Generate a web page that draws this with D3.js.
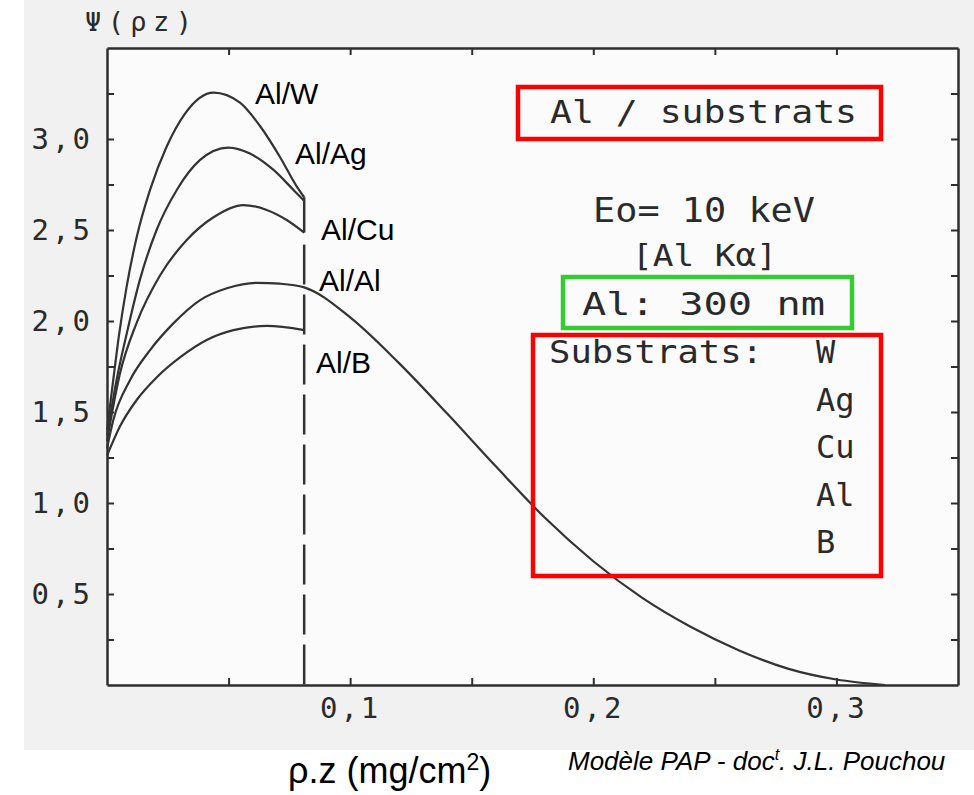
<!DOCTYPE html>
<html>
<head>
<meta charset="utf-8">
<script src="https://cdn.jsdelivr.net/npm/d3@7"></script>
<style>
  body { margin: 0; background: #fff; }
  .scan { font-family: "DejaVu Sans Mono", "Liberation Mono", monospace; fill: #2a2a2a; }
</style>
</head>
<body>
<svg id="chart" width="974" height="795"></svg>
<script>
// phi(rho.z) curves, Al film 300 nm on different substrates
const substrates = ["W", "Ag", "Cu", "Al", "B"];

const rzW  = [0, 0.0026, 0.0047, 0.0081, 0.0122, 0.0177, 0.0246, 0.0321, 0.0438, 0.0547, 0.063, 0.0712, 0.078, 0.0811];
const phiW = [1.40, 1.68, 1.90, 2.19, 2.46, 2.72, 2.96, 3.14, 3.255, 3.20, 3.07, 2.90, 2.74, 2.68];

const rzAg  = [0, 0.004, 0.0081, 0.0136, 0.0204, 0.0287, 0.0383, 0.0499, 0.0588, 0.0685, 0.0767, 0.0811];
const phiAg = [1.37, 1.68, 1.93, 2.23, 2.50, 2.72, 2.885, 2.953, 2.92, 2.83, 2.72, 2.66];

const rzCu  = [0, 0.0053, 0.0122, 0.0218, 0.0328, 0.0438, 0.0561, 0.0657, 0.0739, 0.0811];
const phiCu = [1.34, 1.71, 1.99, 2.25, 2.445, 2.57, 2.637, 2.61, 2.555, 2.486];

const rzAl  = [0, 0.0026, 0.0095, 0.0177, 0.0273, 0.0383, 0.0493, 0.0616, 0.0712, 0.0811, 0.10, 0.12, 0.14, 0.16, 0.18, 0.20, 0.22, 0.24, 0.26, 0.28, 0.30, 0.32];
const phiAl = [1.30, 1.456, 1.676, 1.84, 1.987, 2.115, 2.18, 2.21, 2.205, 2.185, 2.02, 1.77, 1.49, 1.20, 0.92, 0.68, 0.48, 0.32, 0.19, 0.09, 0.03, 0.0];

const rzB  = [0, 0.0053, 0.0122, 0.0204, 0.030, 0.041, 0.052, 0.0657, 0.0811];
const phiB = [1.26, 1.42, 1.566, 1.69, 1.80, 1.896, 1.95, 1.973, 1.95];

const filmThickness = 0.0811; // mg/cm2, Al 300 nm

const xMajor = [0.1, 0.2, 0.3];
const yMajor = [0.5, 1.0, 1.5, 2.0, 2.5, 3.0];

const svg = d3.select("#chart");
const W = 974, H = 795;

const x = d3.scaleLinear().domain([0, 0.35]).range([107, 958]);
const y = d3.scaleLinear().domain([0, 3.5]).range([685, 48]);

// scanned page background
svg.append("rect").attr("x", 0).attr("y", 0).attr("width", W).attr("height", H).attr("fill", "#fff");
svg.append("rect").attr("x", 24).attr("y", 0).attr("width", W - 24).attr("height", 750).attr("fill", "#f1f1f1");
svg.append("rect")
  .attr("x", x(0)).attr("y", y(3.5))
  .attr("width", x(0.35) - x(0)).attr("height", y(0) - y(3.5))
  .attr("fill", "#fbfbfb");

const fmt = d => d3.format(".1f")(d).replace(".", ",");
const axisColor = "#2e2e2e";

function styleAxis(g) {
  g.select(".domain").attr("stroke", axisColor).attr("stroke-width", 2.5);
  g.selectAll(".tick line").attr("stroke", axisColor).attr("stroke-width", 2);
  g.selectAll("text")
    .attr("class", "scan")
    .attr("font-size", 29)
    .attr("letter-spacing", 3);
}

// bottom axis: minor ticks then labelled ticks
svg.append("g").attr("transform", `translate(0,${y(0)})`)
  .call(d3.axisBottom(x).tickValues(d3.range(0.05, 0.35, 0.05)).tickSize(-7).tickSizeOuter(0).tickFormat(""))
  .call(styleAxis);
svg.append("g").attr("transform", `translate(0,${y(0)})`)
  .call(d3.axisBottom(x).tickValues(xMajor).tickSize(0).tickSizeOuter(0).tickPadding(12).tickFormat(fmt))
  .call(styleAxis)
  .call(g => g.select(".domain").remove());

// top axis
svg.append("g").attr("transform", `translate(0,${y(3.5)})`)
  .call(d3.axisTop(x).tickValues(d3.range(0.05, 0.35, 0.05)).tickSize(-7).tickSizeOuter(0).tickFormat(""))
  .call(styleAxis);

// left axis
svg.append("g").attr("transform", `translate(${x(0)},0)`)
  .call(d3.axisLeft(y).tickValues(d3.range(0.25, 3.5, 0.25)).tickSize(-7).tickSizeOuter(0).tickFormat(""))
  .call(styleAxis);
svg.append("g").attr("transform", `translate(${x(0)},0)`)
  .call(d3.axisLeft(y).tickValues(yMajor).tickSize(0).tickPadding(14).tickFormat(fmt))
  .call(styleAxis)
  .call(g => g.select(".domain").remove());

// right axis
svg.append("g").attr("transform", `translate(${x(0.35)},0)`)
  .call(d3.axisRight(y).tickValues(d3.range(0.25, 3.5, 0.25)).tickSize(-7).tickSizeOuter(0).tickFormat(""))
  .call(styleAxis);

// y title
svg.append("text").attr("class", "scan")
  .attr("x", 85).attr("y", 31)
  .attr("font-size", 27)
  .attr("textLength", 107)
  .attr("lengthAdjust", "spacing")
  .attr("fill", "#555")
  .text("Ψ(ρz)");

// curves
const series = [
  { name: "W", rz: rzW, phi: phiW },
  { name: "Ag", rz: rzAg, phi: phiAg },
  { name: "Cu", rz: rzCu, phi: phiCu },
  { name: "Al", rz: rzAl, phi: phiAl },
  { name: "B", rz: rzB, phi: phiB }
];

const line = d3.line()
  .x(d => x(d[0]))
  .y(d => y(d[1]))
  .curve(d3.curveMonotoneX);

svg.append("g")
  .selectAll("path")
  .data(series)
  .enter()
  .append("path")
  .attr("d", s => line(s.rz.map((r, i) => [r, s.phi[i]])))
  .attr("fill", "none")
  .attr("stroke", "#333")
  .attr("stroke-width", 2.2);

// interface: solid join between truncated curves, dashed below
const topEnd = d3.max([phiW, phiAg].map(a => a[a.length - 1]));
const cuEnd = phiCu[phiCu.length - 1];
svg.append("line")
  .attr("x1", x(filmThickness)).attr("x2", x(filmThickness))
  .attr("y1", y(topEnd)).attr("y2", y(cuEnd))
  .attr("stroke", "#333").attr("stroke-width", 2.5);
svg.append("line")
  .attr("x1", x(filmThickness)).attr("x2", x(filmThickness))
  .attr("y1", y(cuEnd) + 12).attr("y2", y(0))
  .attr("stroke", "#333").attr("stroke-width", 2.5)
  .attr("stroke-dasharray", "40,10");

// curve labels
const labelPos = { W: [255, 104], Ag: [295, 164], Cu: [321, 240], Al: [319, 291], B: [316, 373] };
svg.append("g")
  .selectAll("text")
  .data(substrates)
  .enter()
  .append("text")
  .attr("x", d => labelPos[d][0])
  .attr("y", d => labelPos[d][1])
  .attr("font-family", "Liberation Sans, Arial, sans-serif")
  .attr("font-size", 30)
  .attr("fill", "#000")
  .text(d => "Al/" + d);

// annotation boxes
svg.append("rect").attr("x", 518).attr("y", 87).attr("width", 363).attr("height", 52)
  .attr("fill", "none").attr("stroke", "#ff0000").attr("stroke-width", 4.5);
svg.append("rect").attr("x", 563).attr("y", 277).attr("width", 289).attr("height", 51)
  .attr("fill", "none").attr("stroke", "#33cc33").attr("stroke-width", 4.5);
svg.append("rect").attr("x", 533).attr("y", 335).attr("width", 348).attr("height", 241)
  .attr("fill", "none").attr("stroke", "#ff0000").attr("stroke-width", 4.5);

const notes = [
  { t: "Al / substrats", x: 550, y: 123, w: 307, fs: 32 },
  { t: "Eo= 10 keV", x: 593, y: 222, w: 222, fs: 33 },
  { t: "[Al Kα]", x: 632, y: 266, w: 145, fs: 31 },
  { t: "Al:  300 nm", x: 582, y: 315, w: 243, fs: 32 },
  { t: "Substrats:", x: 549, y: 363, w: 214, fs: 32 }
];
svg.append("g")
  .selectAll("text")
  .data(notes)
  .enter()
  .append("text")
  .attr("class", "scan")
  .attr("x", d => d.x).attr("y", d => d.y)
  .attr("font-size", d => d.fs)
  .attr("textLength", d => d.w)
  .attr("lengthAdjust", "spacingAndGlyphs")
  .text(d => d.t);

svg.append("g")
  .selectAll("text")
  .data(substrates)
  .enter()
  .append("text")
  .attr("class", "scan")
  .attr("x", 816)
  .attr("y", (d, i) => 363 + i * 47.5)
  .attr("font-size", 32)
  .text(d => d);

// footer texts
const xTitle = svg.append("text")
  .attr("x", 288).attr("y", 783)
  .attr("font-family", "Liberation Sans, Arial, sans-serif")
  .attr("font-size", 36)
  .attr("fill", "#000");
xTitle.append("tspan").text("ρ.z (mg/cm");
xTitle.append("tspan").attr("font-size", 23).attr("dy", -13).text("2");
xTitle.append("tspan").attr("dy", 13).text(")");

const credit = svg.append("text")
  .attr("x", 568).attr("y", 770)
  .attr("font-family", "Liberation Sans, Arial, sans-serif")
  .attr("font-style", "italic")
  .attr("font-size", 26)
  .attr("fill", "#000");
credit.append("tspan").text("Modèle PAP - doc");
credit.append("tspan").attr("font-size", 16).attr("dy", -10).text("t");
credit.append("tspan").attr("dy", 10).text(". J.L. Pouchou");
</script>
</body>
</html>
